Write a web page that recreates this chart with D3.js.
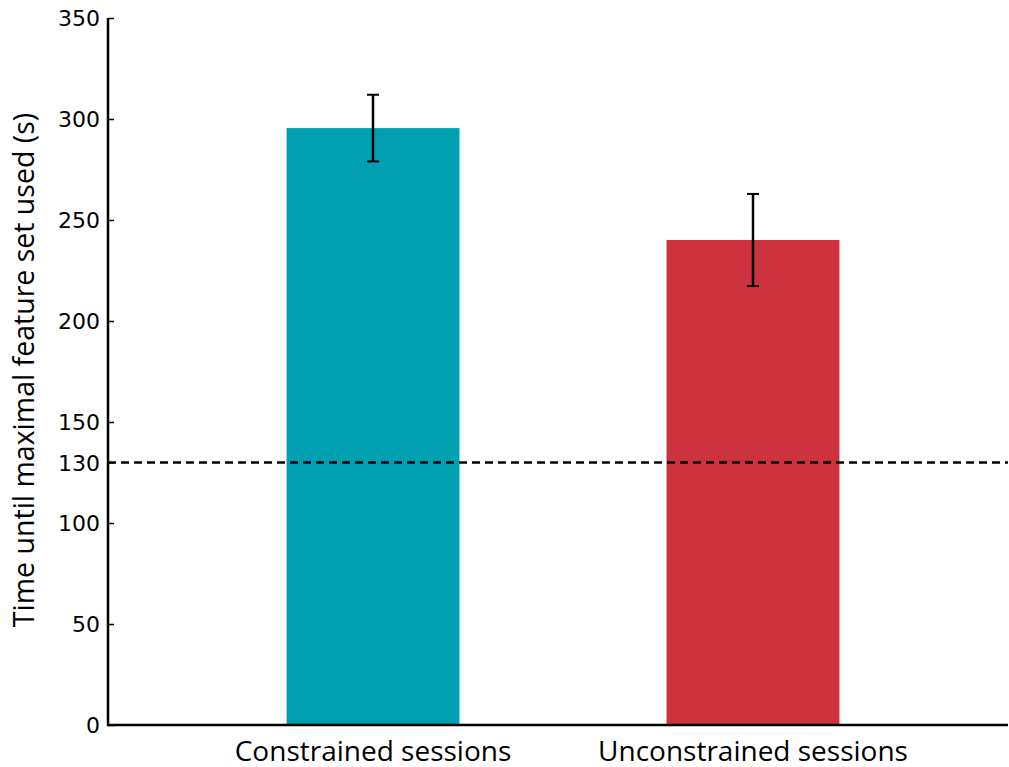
<!DOCTYPE html>
<html><head><meta charset="utf-8">
<script src="https://cdn.jsdelivr.net/npm/d3@7"></script>
<style>body{margin:0;background:#fff}</style>
</head><body>
<svg id="c" width="1009" height="767"></svg>
<script>
const categories = ["Constrained sessions", "Unconstrained sessions"];
const means = [295.5, 240.1];
const errors = [16.5, 22.8];
const colors = ["#00A0B0", "#CC333F"];
const yTicks = [0, 50, 100, 130, 150, 200, 250, 300, 350];
const threshold = 130;
const yLabel = "Time until maximal feature set used (s)";

(function(){
const svg = d3.select("#c");
const pL = 108, pR = 1008, pT = 18, pB = 725;
const y = d3.scaleLinear().domain([0, 350]).range([pB, pT]);
const x = d3.scaleBand().domain(categories).range([118, 1008]).paddingInner(0.545).paddingOuter(0.4436);

// bars
svg.selectAll("rect.bar").data(categories).join("rect")
  .attr("x", d => x(d)).attr("width", x.bandwidth())
  .attr("y", (d,i) => y(means[i])).attr("height", (d,i) => y(0) - y(means[i]))
  .attr("fill", (d,i) => colors[i]);

// threshold line
svg.append("line").attr("x1", pL).attr("x2", pR)
  .attr("y1", y(threshold)).attr("y2", y(threshold))
  .attr("stroke", "#000").attr("stroke-width", 2.5).attr("stroke-dasharray", "8,5");

// error bars
const eb = svg.selectAll("g.eb").data(categories).join("g");
eb.append("line").attr("x1", d => x(d)+x.bandwidth()/2).attr("x2", d => x(d)+x.bandwidth()/2)
  .attr("y1", (d,i) => y(means[i]+errors[i])).attr("y2", (d,i) => y(means[i]-errors[i]))
  .attr("stroke", "#000").attr("stroke-width", 2.5);
[1,-1].forEach(s => {
  eb.append("line").attr("x1", d => x(d)+x.bandwidth()/2-6).attr("x2", d => x(d)+x.bandwidth()/2+6)
    .attr("y1", (d,i) => y(means[i]+s*errors[i])).attr("y2", (d,i) => y(means[i]+s*errors[i]))
    .attr("stroke", "#000").attr("stroke-width", 2);
});

// y axis
const ya = svg.append("g").attr("transform", `translate(${pL},0)`)
  .call(d3.axisLeft(y).tickValues(yTicks).tickSize(-6).tickPadding(8).tickFormat(d3.format("d")));
ya.select(".domain").remove();
ya.selectAll(".tick line").attr("stroke", "#000").attr("stroke-width", 1.5);
ya.selectAll(".tick text").attr("font-family", "DejaVu Sans").attr("font-size", 22).attr("fill", "#000").attr("dy", "0.35em");
svg.append("line").attr("x1", pL).attr("x2", pL).attr("y1", pT).attr("y2", pB+1)
  .attr("stroke", "#000").attr("stroke-width", 2.5);

// x axis
svg.append("line").attr("x1", pL-1).attr("x2", pR).attr("y1", pB).attr("y2", pB)
  .attr("stroke", "#000").attr("stroke-width", 2.5);
svg.selectAll("text.xl").data(categories).join("text")
  .attr("x", d => x(d)+x.bandwidth()/2).attr("y", 761)
  .attr("text-anchor", "middle").attr("font-family", "Open Sans").attr("font-size", 28)
  .attr("fill", "#000").text(d => d);

// y label
svg.append("text").attr("transform", `translate(34,${(112+628)/2}) rotate(-90)`)
  .attr("text-anchor", "middle").attr("font-family", "Open Sans").attr("font-size", 28.5)
  .attr("fill", "#000").text(yLabel);
})();
</script>
</body></html>
